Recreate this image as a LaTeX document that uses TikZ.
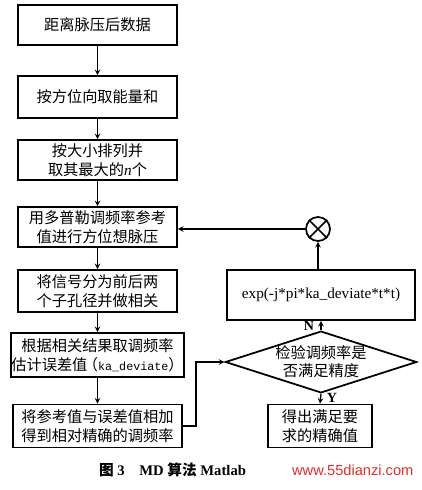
\documentclass[tikz,border=0pt]{standalone}
\usepackage{fontspec}
\setmainfont{Liberation Serif}
\newfontfamily\cjk{Noto Sans CJK SC}
\newfontfamily\mono{Liberation Mono}
\newfontfamily\web{Liberation Sans}
\usetikzlibrary{shapes.geometric}
\definecolor{markred}{RGB}{225,45,45}
\tikzset{
 box/.style={draw,line width=1.5pt,align=center,inner sep=1pt,
  font=\cjk\fontsize{13}{16.5}\selectfont},
 flow/.style={line width=1.1pt,->},
 lab/.style={font=\bfseries\fontsize{12}{14}\selectfont},
}
\begin{document}
\begin{tikzpicture}[x=0.03cm,y=-0.03cm,>=stealth]
 \useasboundingbox (0,0) rectangle (422,490);
 % left column
 \node[box,minimum width=4.77cm,minimum height=1.2cm] (dat) at (97.5,25) {距离脉压后数据};
 \node[box,minimum width=4.77cm,minimum height=1.26cm] (sum) at (97.5,97) {按方位向取能量和};
 \node[box,minimum width=4.77cm,minimum height=1.2cm] (sort) at (97.5,160) {按大小排列并\\取其最大的{\rmfamily\itshape n}个};
 \node[box,minimum width=4.77cm,minimum height=1.2cm] (comp) at (97.5,227) {用多普勒调频率参考\\值进行方位想脉压};
 \node[box,minimum width=4.77cm,minimum height=1.26cm] (split) at (97.5,291) {将信号分为前后两\\个子孔径并做相关};
 \node[box,minimum width=5.07cm,minimum height=1.32cm,inner sep=0pt] (err) at (97.5,355) {根据相关结果取调频率\\估计误差值\hspace{-0.3em}（{\mono\fontsize{10}{12}\selectfont ka\_deviate}）\hspace{-0.3em}};
 \node[box,minimum width=5.07cm,minimum height=1.29cm] (add) at (97.5,426) {将参考值与误差值相加\\得到相对精确的调频率};
 % right column
 \node[draw,circle,line width=1.5pt,minimum size=0.72cm,inner sep=0pt] (mul) at (318,229) {};
 \draw[line width=1.5pt] (mul.north west) -- (mul.south east) (mul.north east) -- (mul.south west);
 \node[box,minimum width=5.64cm,minimum height=1.5cm,font=\fontsize{13}{16}\selectfont] (expf) at (321,295) {exp(-j*pi*ka\_deviate*t*t)};
 \node[box,diamond,aspect=3.1,inner sep=0pt,minimum width=5.64cm,minimum height=1.8cm,
  font=\cjk\fontsize{13}{15.5}\selectfont] (chk) at (321,362) {检验调频率是\\否满足精度};
 \node[box,minimum width=3.12cm,minimum height=1.29cm] (res) at (320,426) {得出满足要\\求的精确值};
 % connectors
 \foreach \a/\b in {dat/sum,sum/sort,sort/comp,comp/split,split/err,err/add}
  \draw[flow] (\a) -- (\b);
 \draw[flow] (add.east) -- ++(13,0) |- (chk.west);
 \draw[flow] (chk.north) -- (expf.south);
 \draw[flow] (mul.south |- expf.north) -- (mul.south);
 \draw[flow] (mul.west) -- (mul.west -| comp.east);
 \draw[flow] (chk.south) -- (res.north);
 \node[lab] (no) at (309,326) {N};
 \node[lab] (yes) at (332,398) {Y};
 % caption
 \node[anchor=west,font=\bfseries\fontsize{12.5}{15}\selectfont] (cap) at (95,470) {{\cjk 图}\ 3\quad MD {\cjk 算法} Matlab};
 \node[anchor=west,text=markred,font=\web\fontsize{12.5}{15}\selectfont] (mark) at (288,470) {www.55dianzi.com};
\end{tikzpicture}
\end{document}
